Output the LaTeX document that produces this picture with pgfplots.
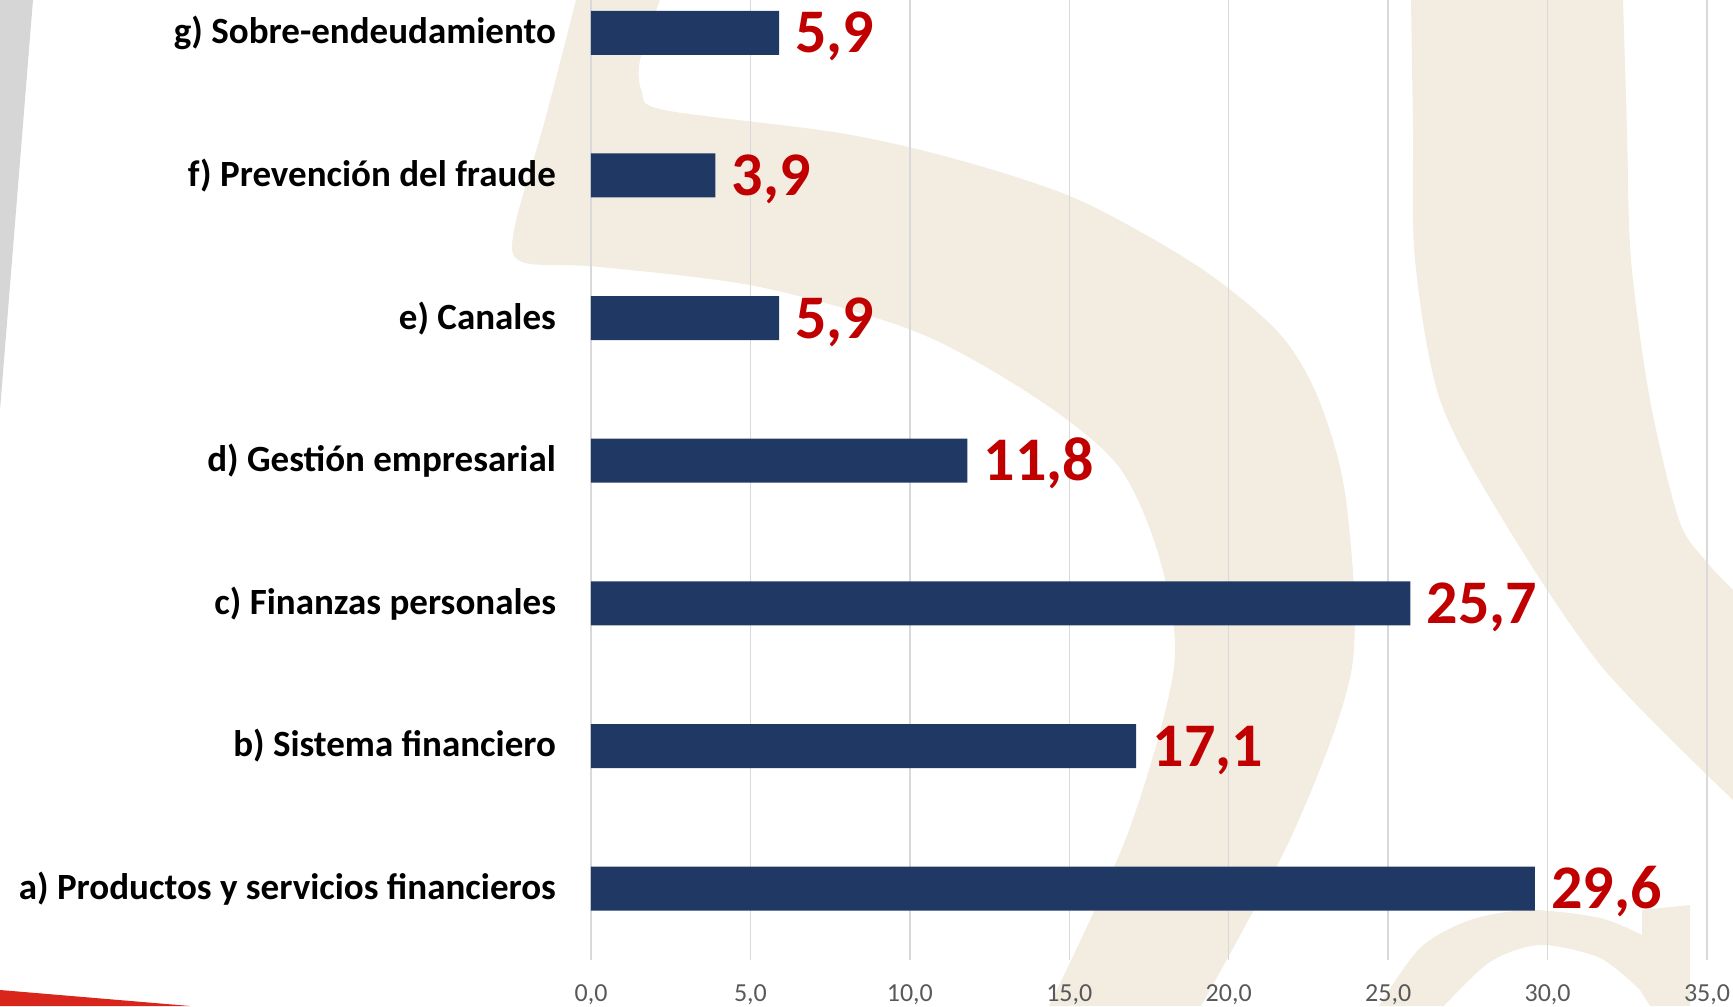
\documentclass[border=0pt]{standalone}
\usepackage{pgfplots}
\pgfplotsset{compat=1.18}
\usepackage{fontspec}
\setmainfont{Carlito}
\definecolor{barblue}{HTML}{203864}
\definecolor{valred}{HTML}{C00000}
\definecolor{gridgray}{HTML}{D9D9D9}
\definecolor{ticktext}{HTML}{595959}
\definecolor{beige}{HTML}{F3EDE1}
\definecolor{stripgray}{HTML}{D6D6D6}
\definecolor{stripred}{HTML}{D9261C}
\begin{document}
\begin{tikzpicture}
% decorative background (watermark), in reference pixel coordinates
\begin{scope}[x=0.5pt,y=-0.5pt,shift={(-295.5pt,480pt)}]
  \fill[stripgray] (0,0) -- (33,0) -- (0,410) -- cycle;
  \fill[stripred] (0,990) -- (190,1006) -- (0,1006) -- cycle;
  \fill[beige] (576,0) -- plot[smooth] coordinates {(576,0) (545,120) (514,230) (522,262) (600,267) (760,287) (919,333) (1039,400) (1119,467) (1160,560) (1174,667) (1128,833) (1049,1006)}
     -- (1201,1006) -- plot[smooth] coordinates {(1201,1006) (1293,833) (1352,667) (1346,500) (1319,400) (1279,333) (1199,267) (1079,200) (959,160) (840,133) (664,110) (642,92) (640,60) (660,0)} -- cycle;
  \fill[beige] plot[smooth] coordinates {(1411,0) (1413,130) (1415,260) (1440,400) (1503,520) (1602,667) (1733,800)}
     -- plot[smooth] coordinates {(1733,590) (1705,560) (1679,520) (1650,400) (1631,260) (1627,130) (1623,0)} -- cycle;
  \fill[beige] plot[smooth] coordinates {(1379,1006) (1420,948) (1470,920) (1530,910) (1600,918) (1642,935)} -- (1642,910) -- (1690,905) -- (1690,1006) -- (1650,1006)
     -- plot[smooth] coordinates {(1640,990) (1600,958) (1540,945) (1490,962) (1444,1006)} -- cycle;
\end{scope}
\begin{axis}[
  xbar,
  scale only axis,
  width=558pt, height=480pt,
  xmin=0, xmax=35,
  ymin=-0.5, ymax=6.23,
  axis line style={draw=none},
  major tick length=0pt,
  xtick={0,5,...,35},
  xmajorgrids,
  grid style={gridgray, line width=0.7pt},
  ytick={0,1,2,3,4,5,6},
  yticklabels={a) Productos y servicios financieros, b) Sistema financiero, c) Finanzas personales, d) Gestión empresarial, e) Canales, f) Prevención del fraude, g) Sobre-endeudamiento},
  yticklabel style={font=\fontsize{18.5pt}{18.5pt}\selectfont\bfseries, text=black, anchor=east, xshift=-14pt},
  xticklabel style={font=\fontsize{13pt}{13pt}\selectfont, text=ticktext, yshift=-9pt},
  /pgf/number format/assume math mode=true,
  xticklabel={\pgfmathprintnumber[fixed,fixed zerofill,precision=1,use comma]{\tick}},
  bar width=22pt,
  nodes near coords={\pgfmathprintnumber[fixed,fixed zerofill,precision=1,use comma,assume math mode=true]{\pgfplotspointmeta}},
  nodes near coords style={font=\fontsize{31pt}{31pt}\selectfont\bfseries, text=valred, anchor=base west, inner sep=0pt, xshift=8pt, yshift=-10pt},
  clip=false,
]
\addplot[fill=barblue, draw=none] coordinates {
  (29.6,0) (17.1,1) (25.7,2) (11.8,3) (5.9,4) (3.9,5) (5.9,6)
};
\end{axis}
\pgfresetboundingbox
\useasboundingbox (-295.5pt,-23pt) rectangle (571pt,480pt);
\end{tikzpicture}
\end{document}
